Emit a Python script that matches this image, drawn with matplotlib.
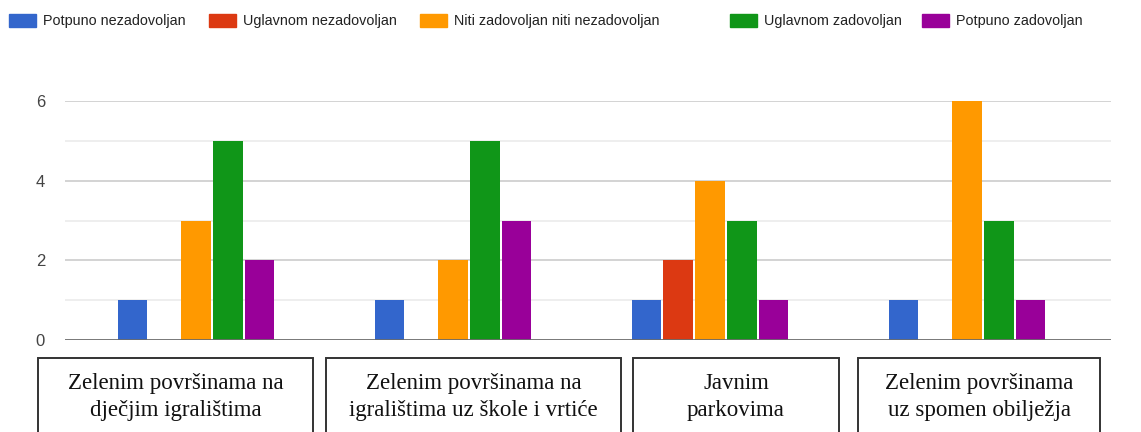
import matplotlib
matplotlib.use("Agg")
import matplotlib.pyplot as plt
from matplotlib.patches import Rectangle
import numpy as np

categories = ["Zelenim površinama na\ndječjim igralištima",
              "Zelenim površinama na\nigralištima uz škole i vrtiće",
              "Javnim\nparkovima",
              "Zelenim površinama\nuz spomen obilježja"]
series_names = ["Potpuno nezadovoljan", "Uglavnom nezadovoljan",
                "Niti zadovoljan niti nezadovoljan", "Uglavnom zadovoljan",
                "Potpuno zadovoljan"]
potpuno_nezadovoljan = [1, 1, 1, 1]
uglavnom_nezadovoljan = [0, 0, 2, 0]
niti = [3, 2, 4, 6]
uglavnom_zadovoljan = [5, 5, 3, 3]
potpuno_zadovoljan = [2, 3, 1, 1]
values = [potpuno_nezadovoljan, uglavnom_nezadovoljan, niti,
          uglavnom_zadovoljan, potpuno_zadovoljan]
colors = ["#3366cc", "#dc3912", "#ff9900", "#109618", "#990099"]
yticks = [0, 2, 4, 6]

W, H = 1141, 432
fig = plt.figure(figsize=(W / 100, H / 100), dpi=100)
plt.rcParams['font.family'] = ['Liberation Sans', 'DejaVu Sans']

ax_l, ax_r, ax_t, ax_b = 65, 1111, 101, 340
ax = fig.add_axes([ax_l / W, 1 - ax_b / H, (ax_r - ax_l) / W, (ax_b - ax_t) / H])

n = len(categories)
x = np.arange(n)
slot = 0.618 / len(values)
for j, (vals, c) in enumerate(zip(values, colors)):
    ax.bar(x + (j - 2) * slot, vals, width=slot * 0.94, color=c,
           edgecolor='none', zorder=3)

# category pitch of ~257 px inside a 1046 px wide plot area
pitch = 257.0
x0 = -0.5 - 2.5 / pitch
ax.set_xlim(x0, x0 + (ax_r - ax_l) / pitch)
ax.set_ylim(0, 6)
for yv in range(1, 7):
    ax.axhline(yv, color='#cccccc' if yv % 2 == 0 else '#ebebeb',
               lw=1.2, zorder=1)
ax.axhline(0, color='#6b6b6b', lw=2, zorder=4)
for s in ax.spines.values():
    s.set_visible(False)
ax.set_xticks([])
ax.set_yticks(yticks)
ax.set_yticklabels([str(v) for v in yticks], fontsize=12, color='#444444')
ax.tick_params(axis='y', length=0, pad=21)
for lbl in ax.get_yticklabels():
    lbl.set_horizontalalignment('left')

# legend
patch_x = [9, 209, 420, 730, 922]
for px, name, c in zip(patch_x, series_names, colors):
    fig.patches.append(Rectangle((px / W, 1 - 27 / H), 27 / W, 13 / H,
                                 transform=fig.transFigure, color=c))
    fig.text((px + 34) / W, 1 - 21 / H, name, fontsize=10.4,
             color='#222222', va='center', ha='left')

# category boxes
boxes = [(38, 313), (326, 621), (633, 839), (858, 1100)]
for (bl, br), cat in zip(boxes, categories):
    fig.patches.append(Rectangle((bl / W, -0.05), (br - bl) / W,
                                 (1 - 358 / H) + 0.05,
                                 transform=fig.transFigure, fill=False,
                                 edgecolor='#333333', lw=1.4))
    fig.text((bl + br) / 2 / W, 1 - 397 / H, cat, ha='center', va='center',
             fontsize=16.5, family='Liberation Serif', color='#111111',
             linespacing=1.38)

fig.savefig("out.png", dpi=100)
